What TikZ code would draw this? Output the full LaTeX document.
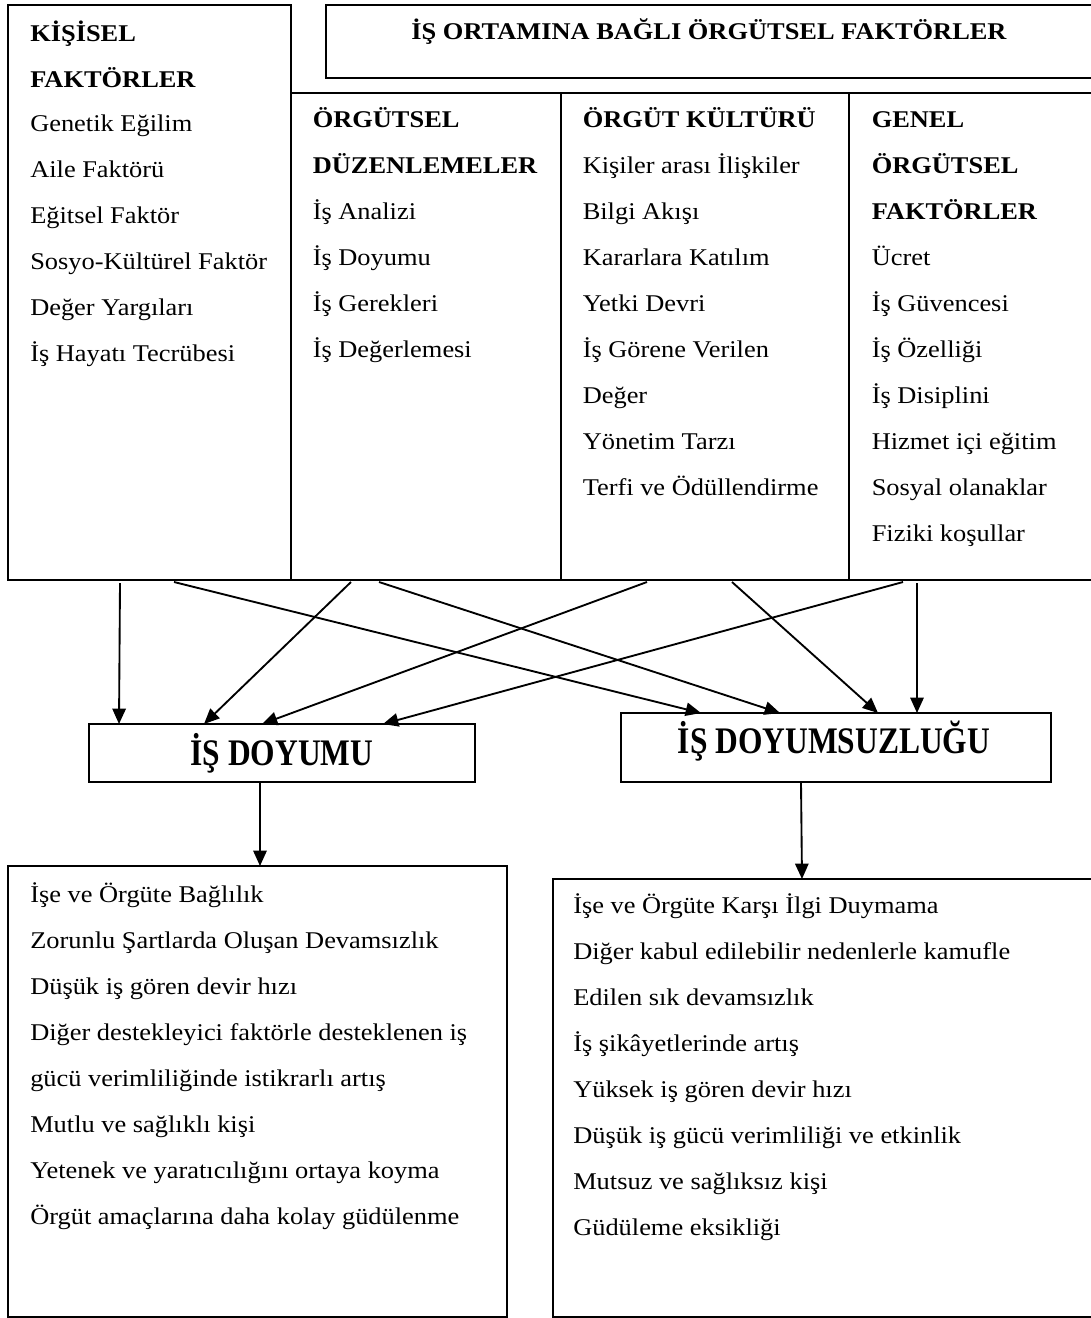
\documentclass[tikz,border=0pt]{standalone}
\usepackage{fontspec}
\setmainfont{Liberation Serif}[FakeStretch=1.1]
\newfontfamily\bigfont{Liberation Serif}[FakeStretch=0.84]
\usetikzlibrary{arrows.meta,calc,fit}

\begin{document}
\begin{tikzpicture}[x=0.75pt,y=-0.75pt,
  frame/.style={draw,line width=1.3pt,inner sep=0pt,outer sep=0pt},
  txt/.style={anchor=base west,inner sep=0pt,font=\fontsize{18}{22}\selectfont},
  hd/.style={anchor=base west,inner sep=0pt,font=\fontsize{18}{22}\selectfont\bfseries},
  lbl/.style={anchor=base,inner sep=0pt,font={\bigfont\bfseries\fontsize{28.1}{32}\selectfont}},
  arr/.style={line width=1.4pt,-{Triangle[length=11.5pt,width=10pt]}}]

\useasboundingbox (0,0) rectangle (1091,1318);

% ---- factor table ----
\node[frame, fit={(8,5) (291,580)}] (kisisel) {};
\node[frame, fit={(326,5) (1093,78)}] (ortam) {};
\node[frame, fit={(291,93) (561,580)}] (duzen) {};
\node[frame, fit={(561,93) (849,580)}] (kultur) {};
\node[frame, fit={(849,93) (1093,580)}] (genel) {};

\node[anchor=base,inner sep=0pt,font=\fontsize{18}{22}\selectfont\bfseries] (ortamT) at (709,39) {İŞ ORTAMINA BAĞLI ÖRGÜTSEL FAKTÖRLER};

% personal factors
\node[hd] (k0) at (30,41) {KİŞİSEL};
\node[hd] (k1) at (30,87) {FAKTÖRLER};
\node[txt] (k2) at (30,131) {Genetik Eğilim};
\node[txt] (k3) at (30,177) {Aile Faktörü};
\node[txt] (k4) at (30,223) {Eğitsel Faktör};
\node[txt] (k5) at (30,269) {Sosyo-Kültürel Faktör};
\node[txt] (k6) at (30,315) {Değer Yargıları};
\node[txt] (k7) at (30,361) {İş Hayatı Tecrübesi};

% organisational arrangements
\node[hd] (d0) at (312.5,127) {ÖRGÜTSEL};
\node[hd] (d1) at (312.5,173) {DÜZENLEMELER};
\node[txt] (d2) at (312.5,219) {İş Analizi};
\node[txt] (d3) at (312.5,265) {İş Doyumu};
\node[txt] (d4) at (312.5,311) {İş Gerekleri};
\node[txt] (d5) at (312.5,357) {İş Değerlemesi};

% organisational culture
\node[hd] (c0) at (582.5,127) {ÖRGÜT KÜLTÜRÜ};
\node[txt] (c1) at (582.5,173) {Kişiler arası İlişkiler};
\node[txt] (c2) at (582.5,219) {Bilgi Akışı};
\node[txt] (c3) at (582.5,265) {Kararlara Katılım};
\node[txt] (c4) at (582.5,311) {Yetki Devri};
\node[txt] (c5) at (582.5,357) {İş Görene Verilen};
\node[txt] (c6) at (582.5,403) {Değer};
\node[txt] (c7) at (582.5,449) {Yönetim Tarzı};
\node[txt] (c8) at (582.5,495) {Terfi ve Ödüllendirme};

% general organisational factors
\node[hd] (g0) at (871.5,127) {GENEL};
\node[hd] (g1) at (871.5,173) {ÖRGÜTSEL};
\node[hd] (g2) at (871.5,219) {FAKTÖRLER};
\node[txt] (g3) at (871.5,265) {Ücret};
\node[txt] (g4) at (871.5,311) {İş Güvencesi};
\node[txt] (g5) at (871.5,357) {İş Özelliği};
\node[txt] (g6) at (871.5,403) {İş Disiplini};
\node[txt] (g7) at (871.5,449) {Hizmet içi eğitim};
\node[txt] (g8) at (871.5,495) {Sosyal olanaklar};
\node[txt] (g9) at (871.5,541) {Fiziki koşullar};

% ---- outcome boxes ----
\node[frame, fit={(89,724) (475,782)}] (doyum) {};
\node[lbl] (doyumT) at (282,765) {İŞ DOYUMU};
\node[frame, fit={(621,713) (1051,782)}] (doyumsuz) {};
\node[lbl] (doyumsuzT) at (834,753) {İŞ DOYUMSUZLUĞU};

% ---- result lists ----
\node[frame, fit={(8,866) (507,1317)}] (sonucA) {};
\node[txt] (a1) at (30,902) {İşe ve Örgüte Bağlılık};
\node[txt] (a2) at (30,948) {Zorunlu Şartlarda Oluşan Devamsızlık};
\node[txt] (a3) at (30,994) {Düşük iş gören devir hızı};
\node[txt] (a4) at (30,1040) {Diğer destekleyici faktörle desteklenen iş};
\node[txt] (a5) at (30,1086) {gücü verimliliğinde istikrarlı artış};
\node[txt] (a6) at (30,1132) {Mutlu ve sağlıklı kişi};
\node[txt] (a7) at (30,1178) {Yetenek ve yaratıcılığını ortaya koyma};
\node[txt] (a8) at (30,1224) {Örgüt amaçlarına daha kolay güdülenme};

\node[frame, fit={(553,879) (1093,1317)}] (sonucB) {};
\node[txt] (b1) at (573,913) {İşe ve Örgüte Karşı İlgi Duymama};
\node[txt] (b2) at (573,959) {Diğer kabul edilebilir nedenlerle kamufle};
\node[txt] (b3) at (573,1005) {Edilen sık devamsızlık};
\node[txt] (b4) at (573,1051) {İş şikâyetlerinde artış};
\node[txt] (b5) at (573,1097) {Yüksek iş gören devir hızı};
\node[txt] (b6) at (573,1143) {Düşük iş gücü verimliliği ve etkinlik};
\node[txt] (b7) at (573,1189) {Mutsuz ve sağlıksız kişi};
\node[txt] (b8) at (573,1235) {Güdüleme eksikliği};

% ---- connectors from the factor table ----
\draw[arr] ($(kisisel.south west)+(112,3)$) -- ($(doyum.north west)+(30,0)$);
\draw[arr] ($(kisisel.south west)+(166,2)$) -- ($(doyumsuz.north west)+(80,0)$);
\draw[arr] ($(duzen.south west)+(60,2)$) -- ($(doyum.north west)+(115,0)$);
\draw[arr] ($(duzen.south west)+(88,2)$) -- ($(doyumsuz.north west)+(159,0)$);
\draw[arr] ($(kultur.south west)+(86,2)$) -- ($(doyum.north west)+(173,0)$);
\draw[arr] ($(kultur.south west)+(171,2)$) -- ($(doyumsuz.north west)+(257,0)$);
\draw[arr] ($(genel.south west)+(54,2)$) -- ($(doyum.north west)+(294,0)$);
\draw[arr] ($(genel.south west)+(68,3)$) -- ($(doyumsuz.north west)+(296,0)$);

% ---- connectors to the result lists ----
\draw[arr] ($(doyum.south west)+(171,0)$) -- ($(sonucA.north west)+(252,0)$);
\draw[arr] ($(doyumsuz.south west)+(180,0)$) -- ($(sonucB.north west)+(249,0)$);
\end{tikzpicture}
\end{document}
